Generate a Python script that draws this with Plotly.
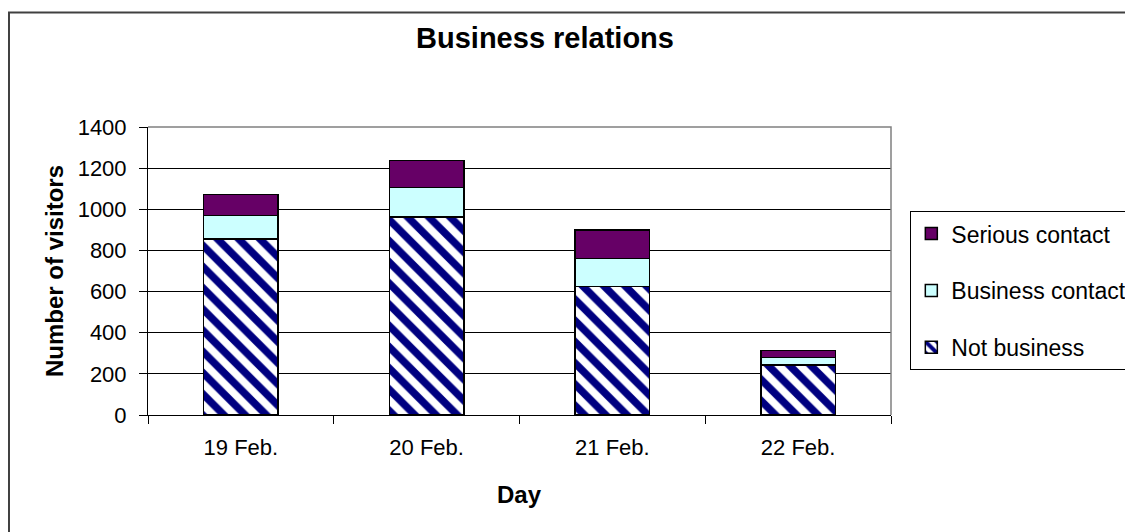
import plotly.graph_objects as go

days = ["19 Feb.", "20 Feb.", "21 Feb.", "22 Feb."]
not_business = [855, 962, 625, 243]
business_contact = [116, 145, 135, 36]
serious_contact = [102, 130, 140, 34]
y_ticks = [0, 200, 400, 600, 800, 1000, 1200, 1400]

FONT = "Liberation Sans, Arial, sans-serif"

fig = go.Figure()
fig.add_trace(go.Bar(
    name="Not business", x=days, y=not_business, width=0.4,
    marker=dict(color="white", line=dict(color="black", width=1.5),
                pattern=dict(shape="\\", fgcolor="#000080", bgcolor="white",
                             fgopacity=1, size=15, solidity=0.5)),
    legendgroup="a", legendrank=3))
fig.add_trace(go.Bar(
    name="Business contact", x=days, y=business_contact, width=0.4,
    marker=dict(color="#CCFFFF", line=dict(color="black", width=1.5)),
    legendgroup="b", legendrank=2))
fig.add_trace(go.Bar(
    name="Serious contact", x=days, y=serious_contact, width=0.4,
    marker=dict(color="#660066", line=dict(color="black", width=1.5)),
    legendgroup="c", legendrank=1))

# page is offset by the 8px body margin; pixel values below are in figure coordinates
fig.update_layout(
    width=1133, height=532,
    barmode="stack",
    paper_bgcolor="white", plot_bgcolor="white",
    margin=dict(l=140, r=250, t=119, b=125, autoexpand=False),
    font=dict(family=FONT, color="black", size=22),
    title=dict(text="<b>Business relations</b>", font=dict(size=29, family=FONT, color="black"),
               x=537 / 1133, xanchor="center", xref="container",
               y=1 - 30 / 532, yanchor="middle", yref="container"),
    showlegend=True,
    legend=dict(x=1.026, y=0.708, xanchor="left", yanchor="top",
                bordercolor="black", borderwidth=1, bgcolor="white",
                font=dict(size=23, family=FONT, color="black"),
                traceorder="grouped", tracegroupgap=24),
    shapes=[
        dict(type="path", xref="paper", yref="paper", path="M0,1 L1,1 L1,0",
             line=dict(color="#808080", width=1.5), layer="above"),
        dict(type="rect", xref="paper", yref="paper", x0=-0.1871, x1=1.5, y0=-0.6, y1=1.3976,
             line=dict(color="#404040", width=2), layer="above"),
    ],
    annotations=[
        dict(text="<b>Number of visitors</b>", xref="paper", yref="paper",
             x=-0.1265, y=0.5, textangle=-90, showarrow=False,
             xanchor="center", yanchor="middle", font=dict(size=24, family=FONT)),
        dict(text="<b>Day</b>", xref="paper", yref="paper",
             x=0.5, y=(415 - 494) / 288, showarrow=False,
             xanchor="center", yanchor="middle", font=dict(size=24, family=FONT)),
    ],
)
fig.update_xaxes(showline=True, linecolor="black", linewidth=1,
                 ticks="outside", tickson="boundaries", ticklen=8, tickcolor="black",
                 showgrid=False, ticklabelstandoff=13)
fig.update_yaxes(range=[0, 1400], tickvals=y_ticks, showline=True, linecolor="black",
                 linewidth=1, ticks="outside", ticklen=8, tickcolor="black",
                 showgrid=True, gridcolor="black", gridwidth=1, zeroline=False,
                 ticklabelstandoff=8)

fig.write_html("out.html")
